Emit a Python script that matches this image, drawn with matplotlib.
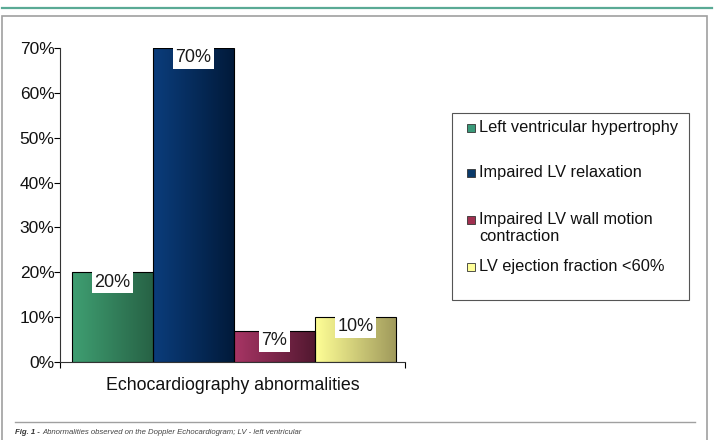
import numpy as np
import matplotlib
matplotlib.use('Agg')
import matplotlib.pyplot as plt
from matplotlib.colors import LinearSegmentedColormap
from matplotlib.patches import Rectangle
from matplotlib.lines import Line2D

plt.rcParams['font.family'] = ['Liberation Sans', 'DejaVu Sans']

# datos
categorias = ['Left ventricular hypertrophy', 'Impaired LV relaxation',
              'Impaired LV wall motion\ncontraction', 'LV ejection fraction <60%']
valores = [0.20, 0.70, 0.07, 0.10]
etiquetas = ['20%', '70%', '7%', '10%']
yticks = [0.0, 0.1, 0.2, 0.3, 0.4, 0.5, 0.6, 0.7]
ytick_labels = ['0%', '10%', '20%', '30%', '40%', '50%', '60%', '70%']

# gradientes (izquierda claro -> derecha oscuro)
gradientes = [('#3f9f72', '#276245'),
              ('#0b3d7c', '#011a3a'),
              ('#a83565', '#521830'),
              ('#ffff96', '#a09a5c')]
colores_leyenda = ['#3a9a7a', '#0a3a6a', '#a03050', '#ffff99']

W, H = 714, 440
fig = plt.figure(figsize=(7.14, 4.40), dpi=100)

# linea teal superior y marco gris
fig.add_artist(Line2D([2/W, 712/W], [1-8/H, 1-8/H], color='#5aaa95', lw=1.6))
fig.add_artist(Rectangle((2/W, -0.05), 705/W, 1.05-16/H, fill=False,
                         edgecolor='#a0a0a0', lw=1.2, transform=fig.transFigure))
fig.add_artist(Line2D([15/W, 695/W], [1-422/H, 1-422/H], color='#a0a0a0', lw=1.0))

ax = fig.add_axes([60/W, 1-362/H, 345/W, 314/H])

x = np.arange(len(valores))
barras = ax.bar(x, valores, width=1.0, color='none', edgecolor='black', lw=0.8, zorder=3)

grad = np.linspace(0, 1, 256).reshape(1, -1)
for b, (c1, c2) in zip(barras, gradientes):
    cmap = LinearSegmentedColormap.from_list('g', [c1, c2])
    x0, y0 = b.get_x(), b.get_y()
    w, h = b.get_width(), b.get_height()
    im = ax.imshow(grad, cmap=cmap, aspect='auto', extent=[x0, x0 + w, y0, y0 + h], zorder=2)
    im.set_clip_path(b)

for b, txt in zip(barras, etiquetas):
    ax.annotate(txt, (b.get_x() + b.get_width() / 2, b.get_height()),
                xytext=(0, -7), textcoords='offset points', ha='center', va='center',
                fontsize=13, color='#1a1a1a', zorder=5,
                bbox=dict(boxstyle='square,pad=0.15', fc='white', ec='none'))

ax.set_xlim(-0.5 - 12/81, 3.5 + 9/81)
ax.set_ylim(0, 0.7)
ax.set_yticks(yticks)
ax.set_yticklabels(ytick_labels, fontsize=12.5, color='#111111')
ax.set_xticks(ax.get_xlim())
ax.set_xticklabels([])
ax.tick_params(axis='both', direction='out', length=4, width=0.8, color='black', pad=0)
ax.spines['top'].set_visible(False)
ax.spines['right'].set_visible(False)
ax.spines['left'].set_color('#333333')
ax.spines['bottom'].set_color('#333333')
ax.set_xlabel('Echocardiography abnormalities', fontsize=12.8,
              color='#111111', labelpad=7)

# leyenda dibujada a mano (posiciones en pixeles)
fig.add_artist(Rectangle((452/W, 1-300/H), 237/W, 187/H, fill=True, fc='white',
                         edgecolor='#555555', lw=0.8, transform=fig.transFigure))
ley_y = [128, 173, 220, 267]
for c, txt, yy in zip(colores_leyenda, categorias, ley_y):
    fig.add_artist(Rectangle((467/W, 1-(yy+4)/H), 8/W, 8/H, fc=c, ec='#333333', lw=0.6,
                             transform=fig.transFigure))
    fig.text(479/W, 1-(yy-8)/H, txt, fontsize=11.8, color='#111111', va='top',
             linespacing=1.2)

# pie de figura
t1 = fig.text(15/W, 1-432/H, 'Fig. 1 - ', fontsize=5.6, style='italic', fontweight='bold',
              color='#333333', va='center')
fig.canvas.draw()
bb = t1.get_window_extent()
fig.text(bb.x1/W, 1-432/H, 'Abnormalities observed on the Doppler Echocardiogram; LV - left ventricular',
         fontsize=5.6, style='italic', color='#444444', va='center')

fig.savefig('out.png', dpi=100)
